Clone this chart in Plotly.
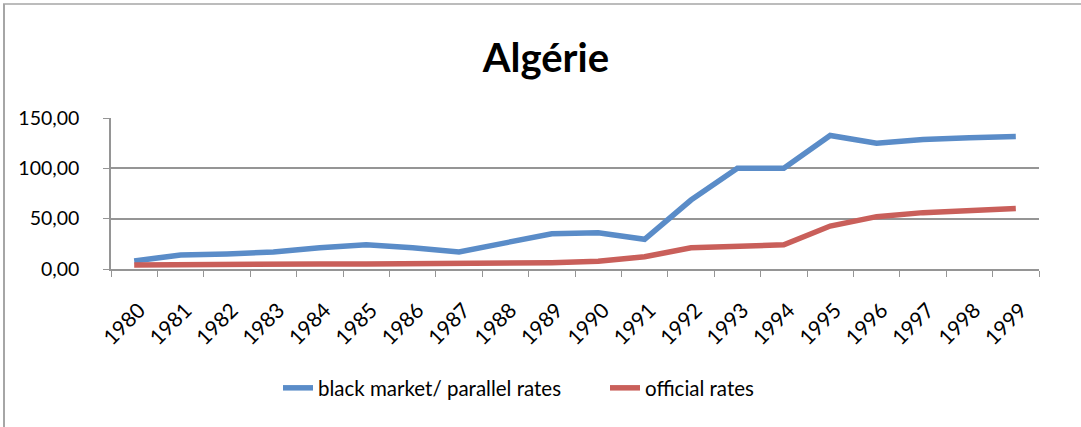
import plotly.graph_objects as go

years = [str(y) for y in range(1980, 2000)]
black_market = [8, 14, 15, 17, 21, 24, 21, 17, 26, 35, 36, 29.5, 68.5, 100, 100, 132.7, 125, 128.7, 130.5, 131.6]
official = [4, 4.5, 4.6, 4.8, 5, 5, 5, 5, 5.2, 6.3, 7.6, 12.2, 21, 22, 24, 42.7, 52, 56, 58, 60]
series_names = ["black market/ parallel rates", "official rates"]
y_ticks = [0, 50, 100, 150]

FONT = "Lato, Carlito, Calibri, sans-serif"
L, R, T, B = 111, 42, 118, 158
W, H = 1081, 427
pw, ph = W - L - R, H - T - B

fig = go.Figure()
fig.add_trace(go.Scatter(x=years, y=black_market, mode="lines", name=series_names[0],
                         line=dict(color="#5A8CC8", width=5.5)))
fig.add_trace(go.Scatter(x=years, y=official, mode="lines", name=series_names[1],
                         line=dict(color="#C95F5A", width=5.5)))

def px_x(p):
    return (p - L) / pw

def px_y(p):
    return (H - B - p) / ph

fig.update_layout(
    width=W, height=H,
    margin=dict(l=L, r=R, t=T, b=B, autoexpand=False),
    paper_bgcolor="white", plot_bgcolor="white",
    separators=", ",
    font=dict(family=FONT, size=19, color="#000000"),
    title=dict(text="<b>Algérie</b>", x=0.505, xref="container", xanchor="center",
               y=1 - 58 / H, yref="container", yanchor="middle",
               font=dict(family=FONT, size=40, color="#000000")),
    xaxis=dict(type="category", range=[-0.5, len(years) - 0.5], tickangle=-45,
               tickson="boundaries", ticks="outside", ticklabelstandoff=19,
               ticklabelshift=5,
               ticklen=6, tickcolor="#959595", showline=True, linecolor="#959595",
               linewidth=1.5, showgrid=False, tickfont=dict(size=21), fixedrange=True),
    yaxis=dict(range=[0, 150], tickvals=y_ticks, tickformat=".2f", ticks="outside",
               ticklen=6, tickcolor="#959595", showline=True, linecolor="#959595",
               linewidth=1.5, showgrid=True, gridcolor="#959595", gridwidth=1.5,
               ticklabelstandoff=20,
               zeroline=False, tickfont=dict(size=19.5), fixedrange=True),
    showlegend=True,
    legend=dict(orientation="h", x=px_x(278), xanchor="left", y=px_y(388), yanchor="middle",
                font=dict(size=20.5), entrywidth=282, entrywidthmode="pixels",
                bgcolor="rgba(0,0,0,0)"),
    shapes=[
        dict(type="line", xref="paper", yref="paper", x0=px_x(3), x1=px_x(1081),
             y0=px_y(4), y1=px_y(4), line=dict(color="#A6A6A6", width=1.5)),
        dict(type="line", xref="paper", yref="paper", x0=px_x(4), x1=px_x(4),
             y0=px_y(4), y1=px_y(430), line=dict(color="#A6A6A6", width=2)),
    ],
)

fig.write_html("out.html", config={"displayModeBar": False},
               post_script="document.body.style.margin='0';document.body.style.overflow='hidden';")
